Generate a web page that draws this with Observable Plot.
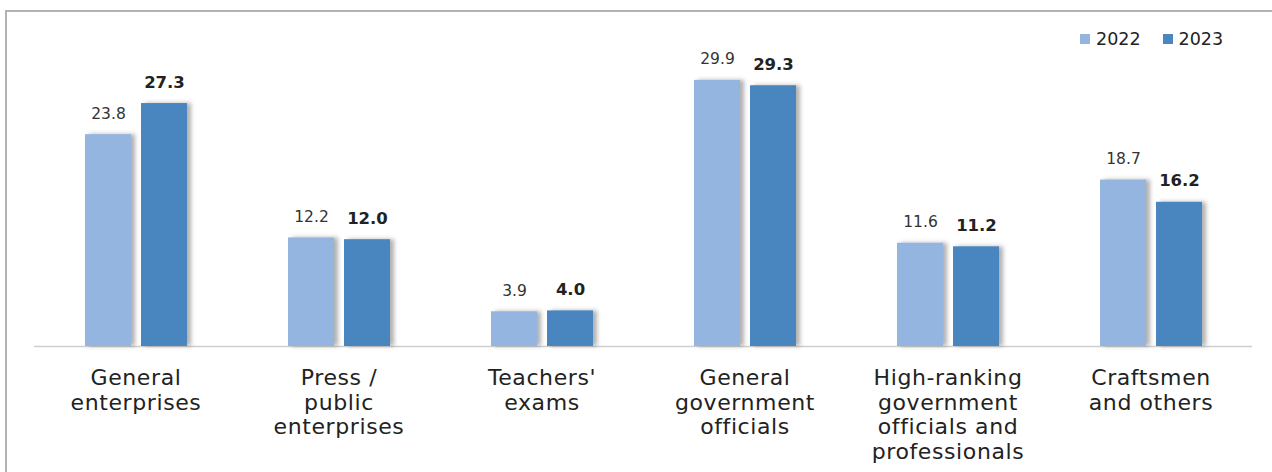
<!DOCTYPE html>
<html>
<head>
<meta charset="utf-8">
<script src="https://cdn.jsdelivr.net/npm/d3@7"></script>
<script src="https://cdn.jsdelivr.net/npm/@observablehq/plot@0.6"></script>
<style>
  html, body { margin: 0; padding: 0; background: #fff; }
  #wrap { position: relative; width: 1272px; height: 472px; overflow: hidden; }
  #frame { position: absolute; left: 5px; top: 10px; right: 0; bottom: 0;
           border-top: 2px solid #b3b3b3; border-left: 2px solid #b3b3b3; pointer-events: none; }
  #legend { position: absolute; top: 29px; left: 1080px; font-family: "DejaVu Sans", sans-serif;
            font-size: 17.5px; color: #222; display: flex; align-items: center; }
  #legend span.sw { display: inline-block; width: 10px; height: 10px; margin-right: 6px; }
  #legend span.item { display: inline-flex; align-items: center; margin-right: 22px; }
  .fxaxis text { letter-spacing: 0.6px; }
</style>
</head>
<body>
<div id="wrap">
  <div id="chart"></div>
  <div id="legend"></div>
  <div id="frame"></div>
</div>
<script>
const categories = [
  "General\nenterprises",
  "Press /\npublic\nenterprises",
  "Teachers'\nexams",
  "General\ngovernment\nofficials",
  "High-ranking\ngovernment\nofficials and\nprofessionals",
  "Craftsmen\nand others"
];
const years = ["2022", "2023"];
const values2022 = [23.8, 12.2, 3.9, 29.9, 11.6, 18.7];
const values2023 = [27.3, 12.0, 4.0, 29.3, 11.2, 16.2];
const colors = ["#93B5DF", "#4A86C0"];

const data = [];
categories.forEach((c, i) => {
  data.push({cat: c, year: years[0], value: values2022[i]});
  data.push({cat: c, year: years[1], value: values2023[i]});
});

const chart = Plot.plot({
  width: 1272,
  height: 472,
  marginLeft: 33,
  marginRight: 20,
  marginTop: 79,
  marginBottom: 126,
  style: {fontFamily: "DejaVu Sans, sans-serif", background: "transparent"},
  fx: {domain: categories, padding: 0, axis: null},
  x: {domain: years, paddingInner: 0.1786, paddingOuter: 0.9018, axis: null},
  y: {domain: [0, 30], axis: null},
  color: {domain: years, range: colors},
  marks: [
    Plot.ruleY([0], {stroke: "#cfcfcf", strokeWidth: 1.5}),
    Plot.barY(data, {fx: "cat", x: "year", y: "value", fill: "year", className: "bars"}),
    Plot.text(data.filter(d => d.year === years[0]), {
      fx: "cat", x: "year", y: "value", text: d => d.value.toFixed(1),
      lineAnchor: "bottom", dy: -16, fontSize: 15.5, fill: "#333"
    }),
    Plot.text(data.filter(d => d.year === years[1]), {
      fx: "cat", x: "year", y: "value", text: d => d.value.toFixed(1),
      lineAnchor: "bottom", dy: -16, fontSize: 16.5, fontWeight: "bold", fill: "#222"
    }),
    Plot.axisFx({anchor: "bottom", tickSize: 0, tickPadding: 21, fontSize: 22,
      lineHeight: 1.12, fill: "#222", label: null, className: "fxaxis"})
  ]
});

// subtle drop shadow on bars
const ns = "http://www.w3.org/2000/svg";
const defs = document.createElementNS(ns, "defs");
defs.innerHTML = '<filter id="shadow" x="-20%" y="-20%" width="150%" height="140%">' +
  '<feDropShadow dx="4" dy="0" stdDeviation="2" flood-color="#555" flood-opacity="0.45"/></filter>';
chart.insertBefore(defs, chart.firstChild);
chart.querySelectorAll("g.bars, .bars").forEach(g => g.setAttribute("filter", "url(#shadow)"));

document.getElementById("chart").appendChild(chart);

const legend = document.getElementById("legend");
years.forEach((y, i) => {
  const item = document.createElement("span");
  item.className = "item";
  item.innerHTML = `<span class="sw" style="background:${colors[i]}"></span>${y}`;
  legend.appendChild(item);
});
</script>
</body>
</html>
